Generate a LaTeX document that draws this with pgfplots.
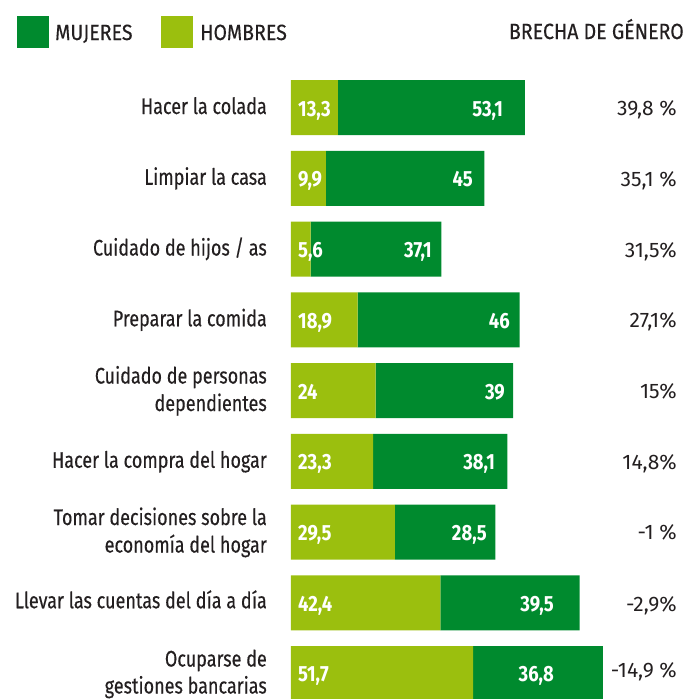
\documentclass[border=0pt]{standalone}
\usepackage{pgfplots}
\pgfplotsset{compat=1.18}
\usepackage{fontspec}
\setmainfont{Fira Sans}[FakeStretch=0.82]
\newfontfamily\catfam{Fira Sans}[FakeStretch=0.80, FakeBold=0.3]
\newfontfamily\gapfam{Fira Sans}[FakeStretch=1.0]
\newfontfamily\valfam{Fira Sans}[FakeStretch=0.84]
\newfontfamily\legfam{Fira Sans}[FakeStretch=0.89, FakeBold=0.3]
\definecolor{muj}{HTML}{008A2E}
\definecolor{hom}{HTML}{9BBF0E}
\definecolor{txt}{HTML}{231F20}
\begin{document}
\begin{tikzpicture}[x=1pt,y=1pt]
\useasboundingbox (0,0) rectangle (687,-699);
\tikzset{
  cat/.style={anchor=base east, inner sep=0pt, font=\catfam\fontsize{22.5}{27}\selectfont, text=txt, xshift=-24pt},
  gap/.style={anchor=base east, inner sep=0pt, font=\gapfam\fontsize{21}{25}\selectfont, text=txt},
  hv/.style={anchor=base west, inner sep=0pt, font=\valfam\bfseries\fontsize{22}{26}\selectfont, text=white, xshift=7pt, yshift=-8.5pt},
  mv/.style={anchor=base east, inner sep=0pt, font=\valfam\bfseries\fontsize{22}{26}\selectfont, text=white, yshift=-8.5pt},
  leg/.style={anchor=base west, inner sep=0pt, font=\legfam\fontsize{22}{26}\selectfont, text=txt}
}
% legend
\fill[muj] (17,-16) rectangle (49,-48);
\node[leg] at (55,-40) {MUJERES};
\fill[hom] (161,-16) rectangle (193,-48);
\node[leg] at (200,-40) {HOMBRES};
\node[leg, anchor=base east] at (684,-39) {BRECHA DE GÉNERO};
\begin{axis}[
  at={(291pt,-72.125pt)}, anchor=north west,
  scale only axis, width=396pt, height=636.75pt,
  xmin=0, xmax=112.37, ymin=-0.5, ymax=8.5, y dir=reverse,
  xbar stacked, bar width=55pt,
  hide axis, clip=false,
]
\addplot[fill=hom, draw=none] coordinates {
 (13.3,0) (9.9,1) (5.6,2) (18.9,3) (24,4) (23.3,5) (29.5,6) (42.4,7) (51.7,8)};
\addplot[fill=muj, draw=none] coordinates {
 (53.1,0) (45,1) (37.1,2) (46,3) (39,4) (38.1,5) (28.5,6) (39.5,7) (36.8,8)};
% category labels
\node[cat, yshift=-6.5pt] at (axis cs:0,0) {Hacer la colada};
\node[cat, yshift=-6.5pt] at (axis cs:0,1) {Limpiar la casa};
\node[cat, yshift=-6.5pt] at (axis cs:0,2) {Cuidado de hijos / as};
\node[cat, yshift=-6.5pt] at (axis cs:0,3) {Preparar la comida};
\node[cat, yshift=7pt] at (axis cs:0,4) {Cuidado de personas};
\node[cat, yshift=-20.5pt] at (axis cs:0,4) {dependientes};
\node[cat, yshift=-6.5pt] at (axis cs:0,5) {Hacer la compra del hogar};
\node[cat, yshift=7pt] at (axis cs:0,6) {Tomar decisiones sobre la};
\node[cat, yshift=-20.5pt] at (axis cs:0,6) {economía del hogar};
\node[cat, yshift=-5.5pt] at (axis cs:0,7) {Llevar las cuentas del día a día};
\node[cat, yshift=7pt] at (axis cs:0,8) {Ocuparse de};
\node[cat, yshift=-20pt] at (axis cs:0,8) {gestiones bancarias};
% anchor points for value labels
\coordinate (h0) at (axis cs:0,0);
\coordinate (h1) at (axis cs:0,1);
\coordinate (h2) at (axis cs:0,2);
\coordinate (h3) at (axis cs:0,3);
\coordinate (h4) at (axis cs:0,4);
\coordinate (h5) at (axis cs:0,5);
\coordinate (h6) at (axis cs:0,6);
\coordinate (h7) at (axis cs:0,7);
\coordinate (h8) at (axis cs:0,8);
\coordinate (m0) at (axis cs:60.16,0);
\coordinate (m1) at (axis cs:51.65,1);
\coordinate (m2) at (axis cs:40.01,2);
\coordinate (m3) at (axis cs:62.15,3);
\coordinate (m4) at (axis cs:60.73,4);
\coordinate (m5) at (axis cs:57.89,5);
\coordinate (m6) at (axis cs:55.62,6);
\coordinate (m7) at (axis cs:74.63,7);
\coordinate (m8) at (axis cs:74.63,8);
% gap labels
\node[gap, yshift=-8pt] at (axis cs:109.5,0) {39,8 \%};
\node[gap, yshift=-8pt] at (axis cs:109.5,1) {35,1 \%};
\node[gap, yshift=-8pt] at (axis cs:109.5,2) {31,5\%};
\node[gap, yshift=-8pt] at (axis cs:109.5,3) {27,1\%};
\node[gap, yshift=-8pt] at (axis cs:109.5,4) {15\%};
\node[gap, yshift=-8pt] at (axis cs:109.5,5) {14,8\%};
\node[gap, yshift=-7pt] at (axis cs:109.5,6) {-1 \%};
\node[gap, yshift=-8.5pt] at (axis cs:109.5,7) {-2,9\%};
\node[gap, yshift=-4pt] at (axis cs:109.5,8) {-14,9 \%};
\end{axis}
% value labels on top of bars
\node[hv] at (h0) {13,3};
\node[hv] at (h1) {9,9};
\node[hv] at (h2) {5,6};
\node[hv] at (h3) {18,9};
\node[hv] at (h4) {24};
\node[hv] at (h5) {23,3};
\node[hv] at (h6) {29,5};
\node[hv] at (h7) {42,4};
\node[hv] at (h8) {51,7};
\node[mv] at (m0) {53,1};
\node[mv] at (m1) {45};
\node[mv] at (m2) {37,1};
\node[mv] at (m3) {46};
\node[mv] at (m4) {39};
\node[mv] at (m5) {38,1};
\node[mv] at (m6) {28,5};
\node[mv] at (m7) {39,5};
\node[mv] at (m8) {36,8};
\end{tikzpicture}
\end{document}
